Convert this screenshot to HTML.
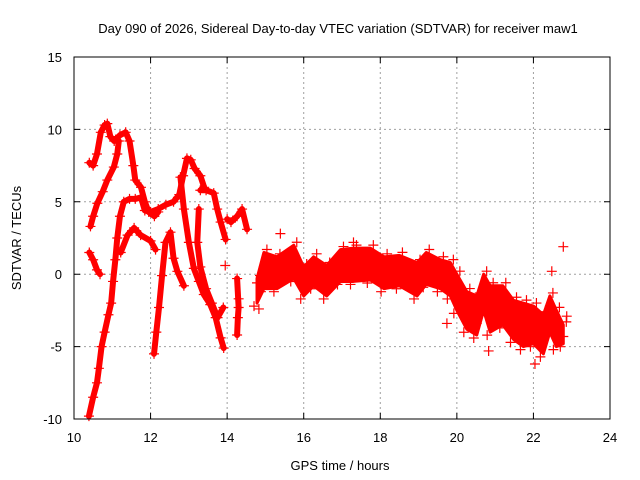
<!DOCTYPE html>
<html><head><meta charset="utf-8"><style>
html,body{margin:0;padding:0;background:#fff}
svg{display:block;font-family:"Liberation Sans",sans-serif}
</style></head><body>
<svg id="chart" width="640" height="480" viewBox="0 0 640 480" xmlns="http://www.w3.org/2000/svg">
<rect width="640" height="480" fill="#fff"/>
<text x="338" y="33" font-size="13" text-anchor="middle">Day 090 of 2026, Sidereal Day-to-day VTEC variation (SDTVAR) for receiver maw1</text>
<g id="grid"></g>
<g id="marks"></g>
<g id="axes"></g>
<text x="340" y="470" font-size="13" text-anchor="middle">GPS time / hours</text>
<text x="0" y="0" font-size="13" text-anchor="middle" transform="translate(21,238) rotate(-90)">SDTVAR / TECUs</text>
</svg>
<script>
const xTicks=[10,12,14,16,18,20,22,24];
const yTicks=[-10,-5,0,5,10,15];
const arcA=[[10.39,-9.8],[10.5,-8.5],[10.6,-7.5],[10.65,-6.5],[10.72,-5],[10.8,-4],[10.9,-2.8],[10.97,-2],[11.02,-0.5],[11.08,1],[11.13,2.5],[11.2,4],[11.3,5],[11.45,5.2],[11.6,5.2],[11.75,5.3],[11.85,4.4],[12.0,4.3],[12.2,4.5],[12.4,4.8],[12.6,5.0],[12.75,5.5],[12.85,6.8],[12.95,8.0],[13.05,7.9],[13.15,7.3],[13.3,6.8],[13.4,6.0]];
const arcB=[[10.4,7.7],[10.5,7.5],[10.6,8.3],[10.7,9.8],[10.8,10.3],[10.87,10.4],[10.95,9.5],[11.05,9.2],[11.2,9.6],[11.35,9.8],[11.45,9.2],[11.55,7.5],[11.6,6.5],[11.75,6.0],[11.85,5.0],[11.95,4.3],[12.1,4.0],[12.2,4.3]];
const arcC=[[10.43,3.3],[10.5,4.0],[10.61,4.9],[10.75,5.7],[10.87,6.5],[11.04,7.4],[11.13,8.3],[11.17,9.2]];
const arcD=[[10.4,1.5],[10.5,1.0],[10.6,0.3],[10.68,0.0]];
const arcE=[[11.22,1.5],[11.4,2.7],[11.57,3.2],[11.74,2.7],[12.0,2.3],[12.13,1.7]];
const arcF=[[12.09,-5.5],[12.15,-4],[12.22,-2.3],[12.3,-0.1],[12.39,2.2],[12.52,2.9],[12.6,1.1],[12.7,0.2],[12.87,-0.8]];
const arcG=[[12.78,6.7],[12.87,4.5],[13.0,2.2],[13.13,0.4],[13.26,-0.5],[13.39,-1.4],[13.56,-2.1],[13.7,-3],[13.83,-4.4],[13.91,-5.1]];
const arcH=[[13.3,5.8],[13.45,5.8],[13.65,5.6],[13.74,4.5],[13.83,3.6],[13.96,2.4]];
const arcI=[[13.26,4.5],[13.22,2.2],[13.3,0.5],[13.45,-1.0],[13.6,-2.0],[13.75,-3.0],[13.9,-2.3]];
const arcJ=[[14.0,3.8],[14.1,3.6],[14.26,4.0],[14.39,4.5],[14.52,3.1]];
const arcK=[[14.26,-0.3],[14.3,-2.3],[14.28,-3.0],[14.26,-4.2]];
const bandT=[14.78,14.96,15.3,15.74,16,16.26,16.6,16.96,17.3,17.74,18.1,18.5,18.96,19.2,19.57,19.83,20,20.26,20.52,20.7,20.87,21.2,21.48,21.74,22,22.26,22.43,22.6,22.78];
const bandMid=[-0.6,0.5,-0.2,1.4,-0.8,0.5,-0.4,1.2,0.5,1.0,0.1,0.5,-0.6,1.0,0.1,-0.4,-1.3,-2.7,-3.4,-1.1,-2.9,-2.0,-3.1,-3.8,-3.6,-4.3,-2.2,-3.6,-4.3];
const bandTop=[-0.3,1.5,1.2,2.0,0.5,1.2,0.6,1.7,1.8,1.8,1.2,1.3,0.8,1.5,1.0,0.8,0.0,-1.2,-1.5,0.0,-0.8,-0.8,-1.8,-2.0,-2.2,-2.8,-1.5,-2.5,-3.5];
const bandBot=[-2.0,-1.0,-1.0,-0.3,-1.5,-0.8,-1.5,-0.5,-0.5,-0.4,-1.0,-0.8,-1.5,-0.7,-1.0,-1.5,-2.5,-3.8,-4.2,-2.5,-4.0,-3.5,-4.5,-5.0,-4.8,-5.5,-4.0,-5.0,-4.8];
const outliers=[[15.39,2.8],[17.3,2.2],[22.78,1.9],[22.48,0.2],[19.74,-3.4],[22.04,-6.2],[22.87,-2.9],[20.83,-5.3],[14.83,-2.4],[13.95,0.6],[14.3,-1.7]];

const X0=74,X1=610,Y0=419,Y1=57;
const sx=h=>X0+(h-10)/14*(X1-X0);
const sy=v=>Y0-(v+10)/25*(Y0-Y1);
const NS='http://www.w3.org/2000/svg';
function mk(tag,attrs,parent){const e=document.createElementNS(NS,tag);for(const k in attrs)e.setAttribute(k,attrs[k]);parent.appendChild(e);return e;}
const grid=document.getElementById('grid'),marks=document.getElementById('marks'),axes=document.getElementById('axes');
xTicks.forEach(t=>{
  const x=sx(t);
  if(t>10&&t<24){const g=mk('line',{x1:x,x2:x,y1:Y1,y2:Y0,stroke:'#a0a0a0','stroke-dasharray':'2,3'},grid);
  
  }
  const tk=mk('path',{d:`M${x},${Y0}v-6M${x},${Y1}v6`,stroke:'#000'},axes);
  
  
  const l=mk('text',{x:x,y:Y0+23,'font-size':13,'text-anchor':'middle'},axes);l.textContent=t;
  
  
});
yTicks.forEach(t=>{
  const y=sy(t);
  if(t>-10&&t<15){const g=mk('line',{x1:X0,x2:X1,y1:y,y2:y,stroke:'#a0a0a0','stroke-dasharray':'2,3'},grid);
  
  }
  const tk=mk('path',{d:`M${X0},${y}h6M${X1},${y}h-6`,stroke:'#000'},axes);
  
  
  const l=mk('text',{x:X0-12,y:y+5,'font-size':13,'text-anchor':'end'},axes);l.textContent=t;
  
  
});
const border=mk('rect',{x:X0,y:Y1,width:X1-X0,height:Y0-Y1,fill:'none',stroke:'#000'},axes);



function plus(h,v,color,dx,dy){
  const x=sx(h)+(dx||0),y=sy(v)+(dy||0);
  const p=mk('path',{d:`M${x-5},${y}h10M${x},${y-5}v10`,stroke:color,'stroke-width':1.2},marks);
  
  
}
let d='';
bandT.forEach((t,i)=>{d+=(i?'L':'M')+sx(t)+','+sy(bandTop[i]);});
for(let i=bandT.length-1;i>=0;i--)d+='L'+sx(bandT[i])+','+sy(bandBot[i]);
const band=mk('path',{d:d+'Z',fill:'#ff0000',stroke:'#ff0000','stroke-width':3,'stroke-linejoin':'round'},marks);


bandT.forEach((t,i)=>{plus(t,bandMid[i],'#ff0000');plus(t,bandTop[i],'#ff0000',3,-3);plus(t,bandBot[i],'#ff0000',-3,3);});
const arcs=[arcA,arcB,arcC,arcD,arcE,arcF,arcG,arcH,arcI,arcJ,arcK];
arcs.forEach(arc=>{
  const pl=mk('polyline',{points:arc.map(p=>sx(p[0])+','+sy(p[1])).join(' '),fill:'none',stroke:'#ff0000','stroke-width':6,'stroke-linejoin':'round','stroke-linecap':'round'},marks);
  
  
  arc.forEach(p=>plus(p[0],p[1],'#ff0000'));
});
outliers.forEach(p=>plus(p[0],p[1],'#ff0000'));
</script>
</body></html>
